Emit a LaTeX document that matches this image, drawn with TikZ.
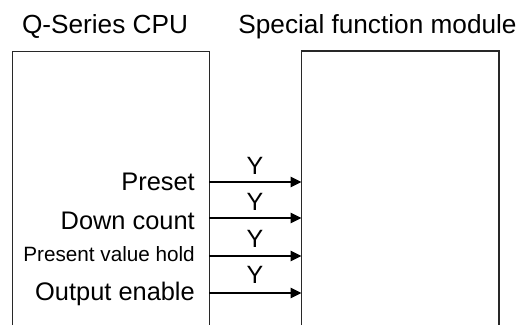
\documentclass[tikz,border=0pt]{standalone}
\usepackage{fontspec}
\setmainfont{Liberation Sans}
\usetikzlibrary{arrows.meta,positioning}
\definecolor{edge}{RGB}{40,40,40}
\tikzset{
  title/.style={anchor=base, inner sep=0pt, font=\fontsize{26.2}{28}\selectfont},
  sig/.style={anchor=base east, inner sep=0pt, font=\fontsize{25.4}{27}\selectfont},
  small/.style={anchor=base east, inner sep=0pt, font=\fontsize{20.7}{23}\selectfont},
  ylab/.style={anchor=base, inner sep=0pt, font=\fontsize{25}{27}\selectfont},
  unit/.style={draw=edge, line width=1pt},
  flow/.style={-{Triangle[length=11pt, width=10.5pt]}, black, line width=1.6pt},
}
\begin{document}
\begin{tikzpicture}[x=1pt, y=-1pt]
    \useasboundingbox (0,0) rectangle (520,325);
    \node[title] (cpu) at (105,33.5) {Q-Series CPU};
    \node[title] (sfm) at (377.5,33.5) {Special function module};
    % open-bottom boxes
    \draw[unit] (12.5,325) -- (12.5,51) -- (209,51) -- (209,325);
    \draw[unit, line width=1.5pt] (301.5,325) -- (301.5,51) -- (499,51) -- (499,325);
    % signals
    \node[sig] (preset) at (195,190.5) {Preset};
    \node[sig] (down) at (195,229) {Down count};
    \node[small] (hold) at (195,261.5) {Present value hold};
    \node[sig] (enable) at (195,300) {Output enable};
    \foreach \name/\yy/\yb in {p/182/174, d/218/210.5, h/256/247, e/293/283.5} {
      \coordinate (\name out) at (209,\yy);
      \coordinate (\name in) at (301.5,\yy);
      \node[ylab] (\name y) at (255,\yb) {Y};
      \draw[flow] (\name out) -- (\name in);
    }
  \end{tikzpicture}
\end{document}
